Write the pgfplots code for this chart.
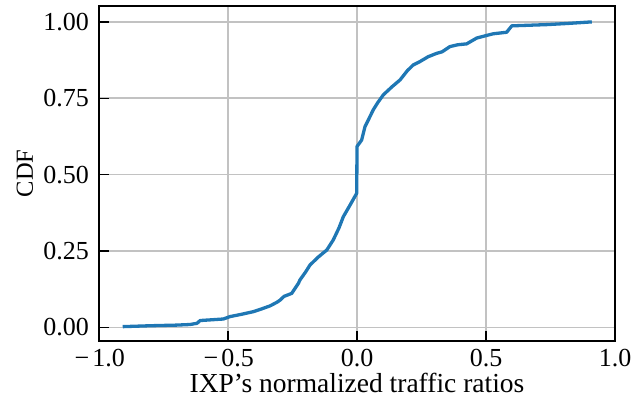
\documentclass[border=0pt]{standalone}
\usepackage{fontspec}
\setmainfont{Liberation Serif}
\usepackage{pgfplots}
\pgfplotsset{compat=1.18}
\definecolor{tabblue}{HTML}{1F77B4}
\newcommand{\mn}{\kern0.05em−\kern0.12em}
\begin{document}
\fontsize{25}{30}\selectfont
\begin{tikzpicture}
\begin{axis}[
  name=ax,
  scale only axis,
  width=516pt, height=335pt,
  xmin=-1, xmax=1, ymin=-0.045, ymax=1.052,
  xtick={-1,-0.5,0,0.5,1},
  xticklabels={\mn1.0,\mn0.5,0.0,0.5,1.0},
  ytick={0,0.25,0.5,0.75,1},
  yticklabels={0.00,0.25,0.50,0.75,1.00},
  tick align=inside,
  xtick pos=bottom, ytick pos=left,
  major tick length=10pt,
  tick style={black, line width=1.3pt},
  axis line style={black, line width=1.3pt},
  grid=major,
  major grid style={color=black!24, line width=1.5pt},
  ticklabel style={font=\fontsize{26}{30}\selectfont},
  yticklabel style={xshift=-1.5pt},
  xlabel={IXP’s normalized traffic ratios},
  ylabel={CDF},
  xlabel style={font=\fontsize{27.5}{32}\selectfont, inner sep=0pt, at={(axis description cs:0.5,0)}, anchor=base, yshift=-52pt},
  ylabel style={font=\fontsize{24.5}{30}\selectfont, at={(axis description cs:-0.128,0.5)}, anchor=base},
]
\addplot[color=tabblue, line width=3.3pt, line join=round] coordinates {
(-0.908,0.002) (-0.80,0.005) (-0.70,0.007) (-0.647,0.009) (-0.62,0.013) (-0.608,0.022)
(-0.518,0.027) (-0.492,0.035) (-0.45,0.042) (-0.402,0.051) (-0.37,0.060) (-0.337,0.070)
(-0.31,0.082) (-0.298,0.089) (-0.283,0.101) (-0.253,0.111) (-0.227,0.144) (-0.221,0.155)
(-0.20,0.180) (-0.182,0.204) (-0.15,0.230) (-0.117,0.253) (-0.092,0.286) (-0.07,0.325)
(-0.053,0.362) (-0.027,0.400) (-0.001,0.439) (0.000,0.592) (0.018,0.613) (0.031,0.657)
(0.044,0.679) (0.063,0.712) (0.080,0.735) (0.102,0.761) (0.135,0.787) (0.167,0.810)
(0.195,0.840) (0.218,0.859) (0.244,0.870) (0.276,0.886) (0.309,0.897) (0.330,0.902)
(0.360,0.919) (0.390,0.925) (0.425,0.928) (0.464,0.947) (0.500,0.955) (0.528,0.961)
(0.580,0.966) (0.600,0.987) (0.735,0.991) (0.82,0.995) (0.910,1.000)
};
\end{axis}
\pgfresetboundingbox
\path[use as bounding box] ([shift={(-99pt,-57pt)}]ax.south west) rectangle ([shift={(19pt,6pt)}]ax.north east);
\end{tikzpicture}
\end{document}
